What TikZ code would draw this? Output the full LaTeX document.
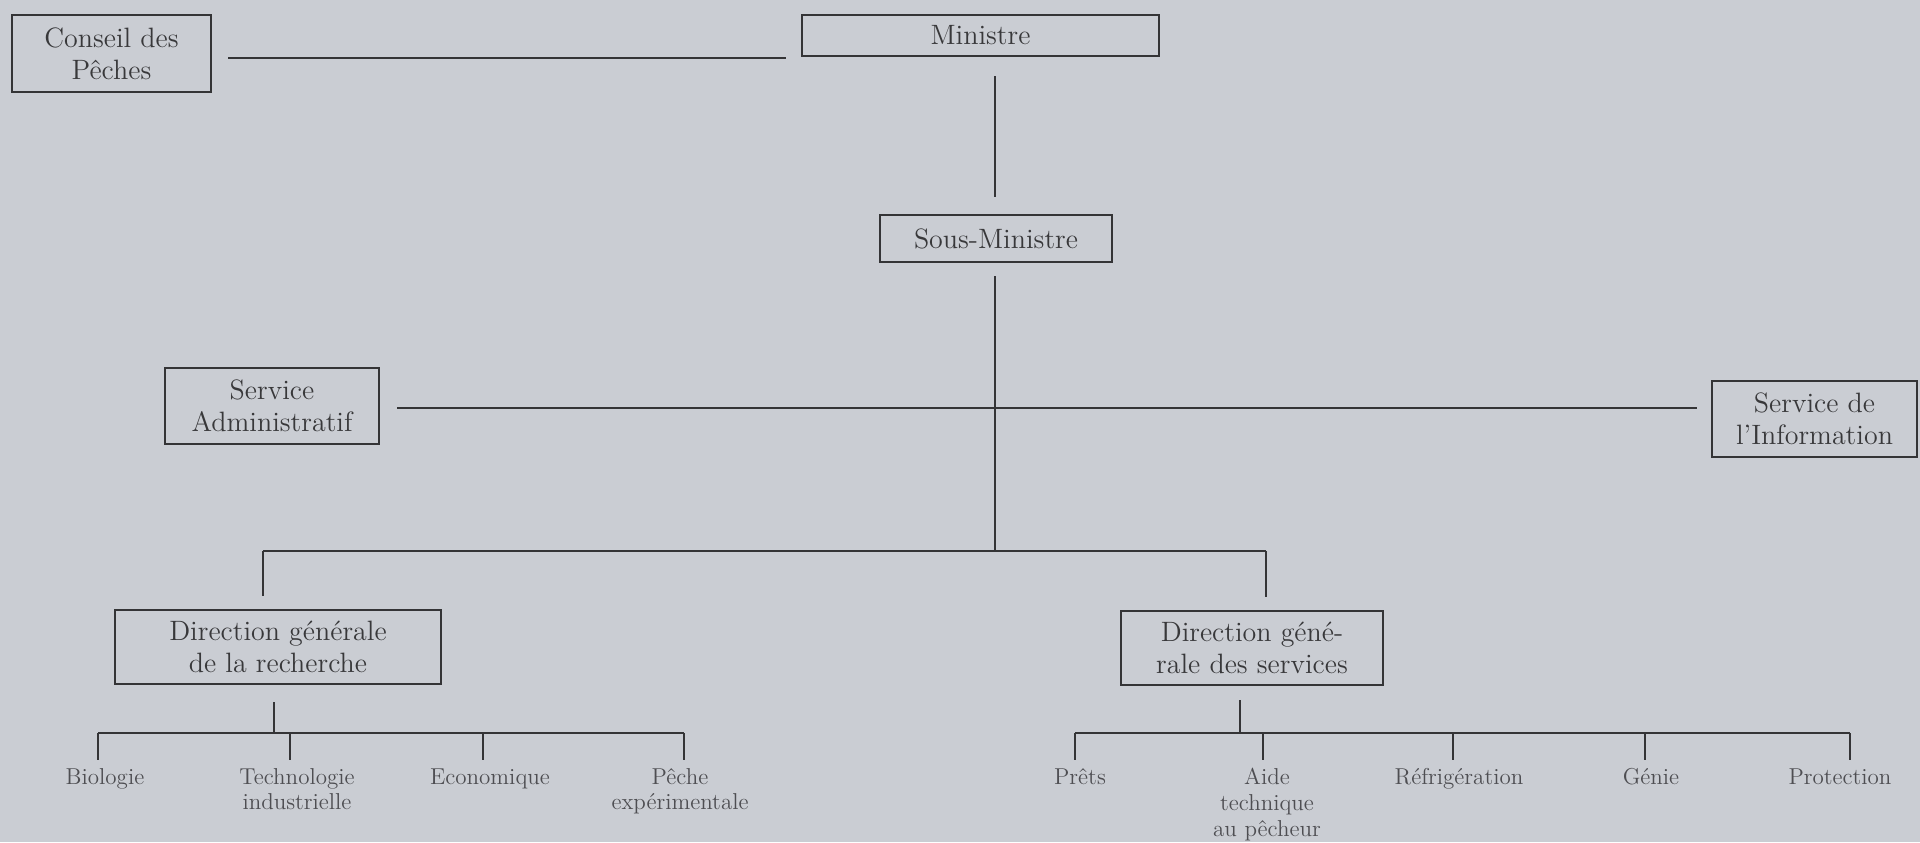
\documentclass[tikz,border=0pt]{standalone}
\usepackage{fontspec}
\definecolor{bgcol}{HTML}{CACDD3}
\definecolor{linecol}{HTML}{343436}
\definecolor{textcol}{HTML}{38383A}
\definecolor{labcol}{HTML}{4E4E52}
\begin{document}
\begin{tikzpicture}[x=0.5pt,y=-0.5pt,
  box/.style={draw=linecol, line width=1.1pt, inner sep=0pt, align=center, text=textcol, font=\fontsize{14}{16}\selectfont},
  lab/.style={anchor=north, inner sep=0pt, align=center, text=labcol, font=\fontsize{11.5}{12.8}\selectfont},
  link/.style={draw=linecol, line width=1pt}]
\fill[bgcol] (0,0) rectangle (1920,842);
\useasboundingbox (0,0) rectangle (1920,842);

% boxes
\node[box, minimum width=99.5pt, minimum height=38.5pt] (conseil) at (111.5,53.5) {Conseil des\\Pêches};
\node[box, minimum width=178.5pt, minimum height=20.5pt] (ministre) at (980.5,35.5) {Ministre};
\node[box, minimum width=116pt, minimum height=23.5pt] (sousmin) at (996,238.5) {Sous-Ministre};
\node[box, minimum width=107pt, minimum height=38pt] (servadm) at (272,406) {Service\\Administratif};
\node[box, minimum width=102.5pt, minimum height=38pt] (servinfo) at (1814.5,419) {Service de\\l'Information};
\node[box, minimum width=163pt, minimum height=37pt] (dgr) at (278,647) {Direction générale\\de la recherche};
\node[box, minimum width=131pt, minimum height=37pt] (dgs) at (1252,648) {Direction géné-\\rale des services};

% labels
\node[lab] (bio) at (105,768) {Biologie};
\node[lab] (tech) at (297,768) {Technologie\\industrielle};
\node[lab] (eco) at (490,768) {Economique};
\node[lab] (peche) at (680,768) {Pêche\\expérimentale};
\node[lab] (prets) at (1080,768) {Prêts};
\node[lab] (aide) at (1267,768) {Aide\\technique\\au pêcheur};
\node[lab] (refr) at (1459,768) {Réfrigération};
\node[lab] (genie) at (1651,768) {Génie};
\node[lab] (prot) at (1840,768) {Protection};

% junction coordinates
\coordinate (jCM) at (0,58);
\coordinate (jSV) at (0,408);
\coordinate (jTop) at (995,551);
\coordinate (bL) at (263,551);
\coordinate (bR) at (1266,551);
\coordinate (lL) at (274,733);
\coordinate (a1) at (98,733);
\coordinate (a2) at (290,733);
\coordinate (a3) at (483,733);
\coordinate (a4) at (684,733);
\coordinate (lR) at (1240,733);
\coordinate (c1) at (1075,733);
\coordinate (c2) at (1263,733);
\coordinate (c3) at (1453,733);
\coordinate (c4) at (1645,733);
\coordinate (c5) at (1850,733);

% connectors
\draw[link, shorten <=8pt, shorten >=7.5pt] (conseil.east |- jCM) -- (ministre.west |- jCM);
\draw[link, shorten <=9.5pt, shorten >=8.5pt] (ministre.south -| jTop) -- (sousmin.north -| jTop);
\draw[link, shorten <=6.5pt] (sousmin.south -| jTop) -- (jTop);
\draw[link, shorten <=8.5pt, shorten >=7pt] (servadm.east |- jSV) -- (servinfo.west |- jSV);
\draw[link] (bL) -- (bR);
\draw[link, shorten >=6.5pt] (bL) -- (bL |- dgr.north);
\draw[link, shorten >=6.5pt] (bR) -- (bR |- dgs.north);

\draw[link, shorten <=8.5pt] (lL |- dgr.south) -- (lL);
\draw[link] (a1) -- (a4);
\draw[link, shorten >=4pt] (a1) -- (a1 |- bio.north);
\draw[link, shorten >=4pt] (a2) -- (a2 |- tech.north);
\draw[link, shorten >=4pt] (a3) -- (a3 |- eco.north);
\draw[link, shorten >=4pt] (a4) -- (a4 |- peche.north);

\draw[link, shorten <=7pt] (lR |- dgs.south) -- (lR);
\draw[link] (c1) -- (c5);
\draw[link, shorten >=4pt] (c1) -- (c1 |- prets.north);
\draw[link, shorten >=4pt] (c2) -- (c2 |- aide.north);
\draw[link, shorten >=4pt] (c3) -- (c3 |- refr.north);
\draw[link, shorten >=4pt] (c4) -- (c4 |- genie.north);
\draw[link, shorten >=4pt] (c5) -- (c5 |- prot.north);
\end{tikzpicture}
\end{document}
